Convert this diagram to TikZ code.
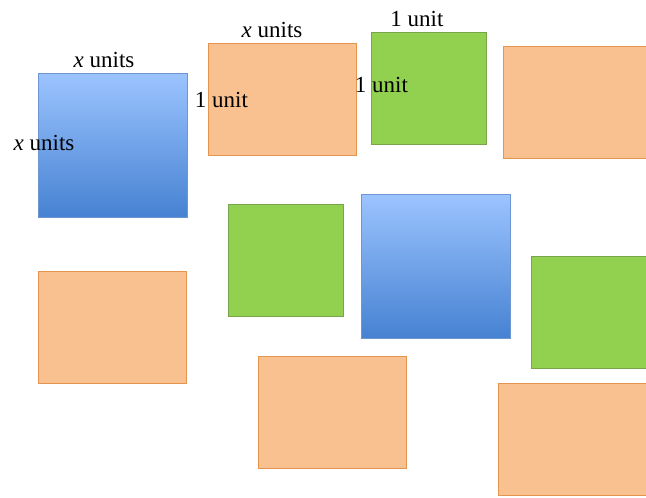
\documentclass[tikz,border=0pt]{standalone}
\usepackage{fontspec}
\setmainfont{Liberation Serif}
\definecolor{ofill}{RGB}{249,192,144}
\definecolor{odraw}{RGB}{228,150,80}
\definecolor{gfill}{RGB}{146,208,80}
\definecolor{gdraw}{RGB}{120,165,75}
\definecolor{btop}{RGB}{156,196,255}
\definecolor{bbot}{RGB}{70,130,210}
\definecolor{bdraw}{RGB}{110,150,210}
\begin{document}
\begin{tikzpicture}[x=1pt,y=-1pt,
  tile/.style={anchor=north west, line width=0.9pt, inner sep=0pt, outer sep=0pt},
  obox/.style={tile, fill=ofill, draw=odraw, minimum width=148pt, minimum height=112pt},
  gbox/.style={tile, fill=gfill, draw=gdraw, minimum width=115pt, minimum height=112pt},
  bbox/.style={tile, top color=btop, bottom color=bbot, draw=bdraw, minimum width=149pt, minimum height=144pt},
  lab/.style={anchor=base, inner sep=0pt, font=\fontsize{23}{26}\selectfont}]
\useasboundingbox (0,0) rectangle (646,498);
\clip (0,0) rectangle (646,498);
\node[bbox] (b1) at (38,73) {};
\node[obox] (o1) at (208,43) {};
\node[gbox] (g1) at (371,32) {};
\node[obox] (o2) at (503,46) {};
\node[gbox] (g2) at (228,204) {};
\node[bbox] (b2) at (361,194) {};
\node[gbox] (g3) at (531,256) {};
\node[obox] (o3) at (38,271) {};
\node[obox] (o4) at (258,356) {};
\node[obox] (o5) at (498,383) {};
\node[lab] (t1) at (104,67) {\textit{x} units};
\node[lab] (t2) at (44,150) {\textit{x} units};
\node[lab] (t3) at (272,37) {\textit{x} units};
\node[lab] (t4) at (221.5,107) {1 unit};
\node[lab] (t5) at (417,26) {1 unit};
\node[lab] (t6) at (381.5,92) {1 unit};
\end{tikzpicture}
\end{document}
